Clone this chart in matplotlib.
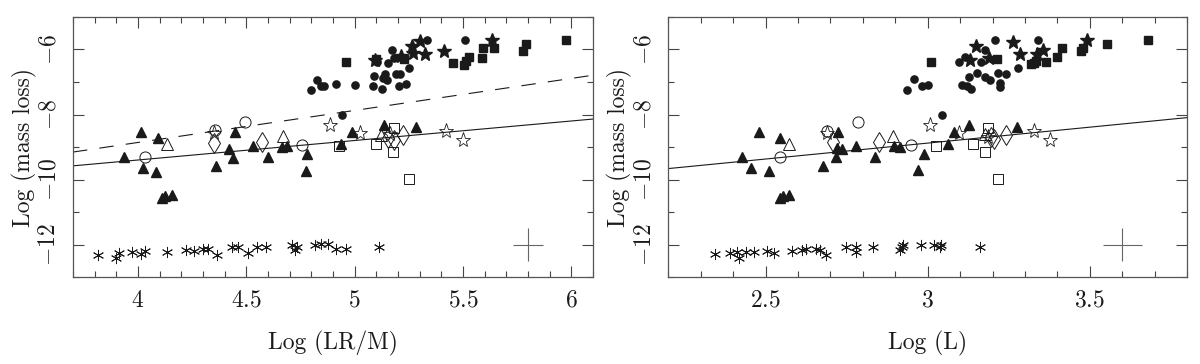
import numpy as np
import matplotlib
matplotlib.use("Agg")
import matplotlib.pyplot as plt
from matplotlib.ticker import MultipleLocator, FuncFormatter

# ─────────────────────────────────────────────
# DATA
# ─────────────────────────────────────────────

# ---- left panel : Log (LR/M) ----
L_FTRI_X = [4.015, 4.093, 3.937, 4.025, 4.085, 4.450, 4.421, 4.361, 4.441, 4.532, 4.600,
            4.665, 4.690, 4.779, 4.776, 4.110, 4.125, 4.155, 4.987, 4.937, 5.136, 5.282]
L_FTRI_Y = [-8.55, -8.72, -9.30, -9.64, -9.77, -8.55, -9.07, -9.58, -9.34, -8.97, -9.30,
            -9.00, -8.97, -9.22, -9.74, -10.58, -10.50, -10.48, -8.54, -8.91, -8.33, -8.38]
L_OTRI_X = [4.136, 4.668, 5.124]
L_OTRI_Y = [-8.91, -8.67, -8.64]
L_OCIR_X = [4.031, 4.356, 4.495, 4.758]
L_OCIR_Y = [-9.30, -8.48, -8.23, -8.95]
L_OSTAR_X = [4.352, 4.888, 5.023, 5.162, 5.420, 5.500]
L_OSTAR_Y = [-8.58, -8.33, -8.57, -8.60, -8.51, -8.79]
L_ODIA_X = [4.352, 4.571, 5.153, 5.181, 5.224]
L_ODIA_Y = [-8.87, -8.84, -8.73, -8.79, -8.64]
L_OSQ_X = [4.926, 5.100, 5.182, 5.177, 5.251]
L_OSQ_Y = [-8.97, -8.91, -8.41, -9.15, -9.97]
L_FCIR_X = [4.801, 4.827, 4.843, 4.858, 4.915, 5.001, 5.085, 5.088, 5.105, 5.128, 5.131, 5.142,
            5.149, 5.154, 5.171, 5.184, 5.193, 5.208, 5.204, 5.239, 5.249, 5.335, 5.508, 4.940]
L_FCIR_Y = [-7.25, -6.94, -7.12, -7.12, -7.05, -7.10, -7.12, -6.83, -6.40, -7.20, -6.89, -6.74,
            -6.94, -6.41, -6.02, -6.25, -6.74, -6.76, -7.13, -7.05, -6.57, -5.72, -5.72, -8.00]
L_FSTAR_X = [5.093, 5.213, 5.265, 5.270, 5.301, 5.325, 5.412, 5.633]
L_FSTAR_Y = [-6.33, -6.21, -5.88, -6.12, -5.75, -6.15, -6.04, -5.70]
L_FSQ_X = [4.958, 5.100, 5.228, 5.455, 5.505, 5.512, 5.528, 5.588, 5.594, 5.645, 5.779, 5.792, 5.975]
L_FSQ_Y = [-6.40, -6.30, -6.30, -6.41, -6.48, -6.36, -6.23, -6.25, -5.94, -5.94, -6.05, -5.84, -5.70]
L_AST_X = [3.815, 3.897, 3.912, 3.974, 4.015, 4.031, 4.133, 4.221, 4.259, 4.302, 4.324, 4.367, 4.434,
           4.460, 4.506, 4.550, 4.591, 4.711, 4.727, 4.733, 4.815, 4.846, 4.876, 4.912, 4.962, 5.113]
L_AST_Y = [-12.31, -12.41, -12.26, -12.23, -12.28, -12.21, -12.23, -12.18, -12.20, -12.15, -12.15,
           -12.31, -12.09, -12.09, -12.26, -12.07, -12.07, -12.00, -12.18, -12.07, -12.00, -11.99,
           -11.97, -12.14, -12.14, -12.07]
L_SOLID = (0.6, -11.8)       # slope, intercept
L_DASHED = (0.985, -12.80)
L_ERR = (5.8, -12.0, 0.07, 0.5)

# ---- right panel : Log (L) ----
R_FTRI_X = [2.479, 2.544, 2.426, 2.454, 2.510, 2.722, 2.719, 2.736, 2.677, 2.717, 2.778, 2.837,
            2.895, 2.914, 2.970, 2.988, 2.544, 2.555, 2.572, 3.081, 3.062, 3.127, 3.276]
R_FTRI_Y = [-8.55, -8.72, -9.30, -9.66, -9.74, -8.55, -9.03, -9.07, -9.58, -9.32, -8.97, -9.30,
            -8.97, -9.00, -9.71, -9.22, -10.57, -10.50, -10.48, -8.55, -8.91, -8.33, -8.38]
R_OTRI_X = [2.572, 2.893, 3.176]
R_OTRI_Y = [-8.91, -8.67, -8.60]
R_OCIR_X = [2.544, 2.691, 2.786, 2.950]
R_OCIR_Y = [-9.30, -8.50, -8.23, -8.95]
R_OSTAR_X = [2.691, 3.008, 3.096, 3.185, 3.327, 3.376]
R_OSTAR_Y = [-8.58, -8.33, -8.57, -8.70, -8.51, -8.79]
R_ODIA_X = [2.708, 2.850, 3.195, 3.205, 3.242]
R_ODIA_Y = [-8.84, -8.86, -8.68, -8.76, -8.64]
R_OSQ_X = [3.027, 3.139, 3.187, 3.176, 3.216]
R_OSQ_Y = [-8.97, -8.91, -8.41, -9.15, -9.97]
R_FCIR_X = [2.936, 2.957, 2.984, 3.001, 3.044, 3.098, 3.115, 3.126, 3.107, 3.122, 3.135, 3.152,
            3.163, 3.176, 3.176, 3.191, 3.208, 3.218, 3.241, 3.224, 3.222, 3.278, 3.340]
R_FCIR_Y = [-7.25, -6.92, -7.12, -7.08, -8.00, -6.40, -6.22, -6.84, -7.08, -7.13, -7.20, -6.72,
            -6.40, -6.02, -6.86, -6.94, -5.71, -6.72, -6.76, -7.03, -7.15, -6.57, -5.71]
R_FSTAR_X = [3.148, 3.132, 3.189, 3.263, 3.285, 3.338, 3.355, 3.492]
R_FSTAR_Y = [-5.89, -6.33, -6.25, -5.78, -6.13, -6.13, -6.02, -5.70]
R_FSQ_X = [3.009, 3.215, 3.319, 3.327, 3.335, 3.365, 3.400, 3.415, 3.473, 3.478, 3.552, 3.681]
R_FSQ_Y = [-6.40, -6.30, -6.45, -6.43, -6.36, -6.38, -6.23, -5.94, -6.04, -5.94, -5.84, -5.70]
R_AST_X = [2.344, 2.391, 2.411, 2.418, 2.441, 2.465, 2.503, 2.526, 2.583, 2.611, 2.626, 2.657,
           2.667, 2.685, 2.749, 2.778, 2.778, 2.830, 2.914, 2.924, 2.922, 2.980, 3.021, 3.037,
           3.042, 3.160]
R_AST_Y = [-12.28, -12.26, -12.24, -12.40, -12.24, -12.23, -12.21, -12.25, -12.21, -12.18, -12.15,
           -12.14, -12.18, -12.31, -12.07, -12.09, -12.23, -12.07, -12.18, -12.02, -12.09, -12.00,
           -12.00, -12.07, -12.00, -12.07]
R_SOLID = (0.98, -11.82)
R_ERR = (3.6, -12.0, 0.06, 0.5)

# ─────────────────────────────────────────────
# STYLE
# ─────────────────────────────────────────────
plt.rcParams['font.family'] = 'serif'
plt.rcParams['font.serif'] = ['cmr10', 'DejaVu Serif']
plt.rcParams['mathtext.fontset'] = 'cm'
plt.rcParams['axes.unicode_minus'] = False

INK = '#1a1a1a'
LW = 0.8

fmt = FuncFormatter(lambda v, p: '$%g$' % v)


def scatter_all(ax, d):
    ax.plot(d['ftri'][0], d['ftri'][1], '^', ms=7, color=INK, ls='none')
    ax.plot(d['otri'][0], d['otri'][1], '^', ms=8, mfc='none', mec=INK, mew=0.7, ls='none')
    ax.plot(d['ocir'][0], d['ocir'][1], 'o', ms=8, mfc='none', mec=INK, mew=0.7, ls='none')
    ax.plot(d['ostar'][0], d['ostar'][1], '*', ms=11, mfc='none', mec=INK, mew=0.6, ls='none')
    ax.plot(d['odia'][0], d['odia'][1], 'd', ms=10, mfc='none', mec=INK, mew=0.7, ls='none')
    ax.plot(d['osq'][0], d['osq'][1], 's', ms=7, mfc='none', mec=INK, mew=0.7, ls='none')
    ax.plot(d['fcir'][0], d['fcir'][1], 'o', ms=5.2, color=INK, ls='none')
    ax.plot(d['fstar'][0], d['fstar'][1], '*', ms=10, color=INK, ls='none')
    ax.plot(d['fsq'][0], d['fsq'][1], 's', ms=5.5, color=INK, ls='none')
    ax.plot(d['ast'][0], d['ast'][1], marker=(6, 2, 0), ms=8, mec=INK, mew=0.65, ls='none')


def style_axes(ax, xlim, xmajor, xlabel):
    ax.set_xlim(*xlim)
    ax.set_ylim(-13, -5)
    ax.xaxis.set_major_locator(MultipleLocator(xmajor))
    ax.xaxis.set_minor_locator(MultipleLocator(0.1))
    ax.yaxis.set_major_locator(MultipleLocator(2))
    ax.yaxis.set_minor_locator(MultipleLocator(1))
    ax.xaxis.set_major_formatter(fmt)
    ax.yaxis.set_major_formatter(fmt)
    ax.tick_params(which='both', direction='in', top=True, right=True, color='#444444', width=0.8)
    ax.tick_params(which='major', length=8)
    ax.tick_params(which='minor', length=4.5)
    ax.tick_params(axis='x', which='major', labelsize=17, pad=9, labelcolor=INK)
    ax.tick_params(axis='y', which='major', labelsize=17, pad=9, labelcolor=INK, labelrotation=90)
    for lab in ax.get_yticklabels():
        lab.set_va('center')
    for s in ax.spines.values():
        s.set_color('#555555')
        s.set_linewidth(0.9)
    ax.set_xlabel(xlabel, fontsize=17, color=INK, labelpad=14)
    ax.set_ylabel('Log (mass loss)', fontsize=17, color=INK, labelpad=1)


fig = plt.figure(figsize=(12, 3.64), dpi=100)
ax1 = fig.add_axes([0.0608, 0.239, 0.4333, 0.7143])
ax2 = fig.add_axes([0.5569, 0.239, 0.4323, 0.7143])

# left panel
left = dict(ftri=(L_FTRI_X, L_FTRI_Y), otri=(L_OTRI_X, L_OTRI_Y), ocir=(L_OCIR_X, L_OCIR_Y),
            ostar=(L_OSTAR_X, L_OSTAR_Y), odia=(L_ODIA_X, L_ODIA_Y), osq=(L_OSQ_X, L_OSQ_Y),
            fcir=(L_FCIR_X, L_FCIR_Y), fstar=(L_FSTAR_X, L_FSTAR_Y), fsq=(L_FSQ_X, L_FSQ_Y),
            ast=(L_AST_X, L_AST_Y))
xl = np.array([3.7, 6.1])
ax1.plot(xl, L_SOLID[0] * xl + L_SOLID[1], color=INK, lw=LW)
ax1.plot(xl, L_DASHED[0] * xl + L_DASHED[1], color=INK, lw=LW, ls=(0, (13, 11)))
scatter_all(ax1, left)
ax1.errorbar(L_ERR[0], L_ERR[1], xerr=L_ERR[2], yerr=L_ERR[3], fmt='none', ecolor='#666666',
             elinewidth=0.8, capsize=0)
style_axes(ax1, (3.7, 6.1), 0.5, 'Log (LR/M)')

# right panel
right = dict(ftri=(R_FTRI_X, R_FTRI_Y), otri=(R_OTRI_X, R_OTRI_Y), ocir=(R_OCIR_X, R_OCIR_Y),
             ostar=(R_OSTAR_X, R_OSTAR_Y), odia=(R_ODIA_X, R_ODIA_Y), osq=(R_OSQ_X, R_OSQ_Y),
             fcir=(R_FCIR_X, R_FCIR_Y), fstar=(R_FSTAR_X, R_FSTAR_Y), fsq=(R_FSQ_X, R_FSQ_Y),
             ast=(R_AST_X, R_AST_Y))
xr = np.array([2.2, 3.8])
ax2.plot(xr, R_SOLID[0] * xr + R_SOLID[1], color=INK, lw=LW)
scatter_all(ax2, right)
ax2.errorbar(R_ERR[0], R_ERR[1], xerr=R_ERR[2], yerr=R_ERR[3], fmt='none', ecolor='#666666',
             elinewidth=0.8, capsize=0)
style_axes(ax2, (2.2, 3.8), 0.5, 'Log (L)')

fig.savefig('out.png', dpi=100)
